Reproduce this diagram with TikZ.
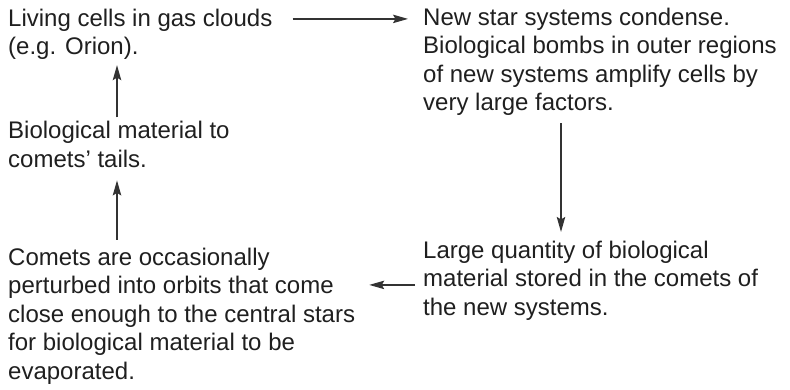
\documentclass[tikz,border=0pt]{standalone}
\usepackage{fontspec}
\setmainfont{Liberation Sans}
\usetikzlibrary{arrows.meta,calc}
\tikzset{
  % multi-line nodes take their base from the last line
  stage/.style={anchor=base west, inner sep=0pt, align=left, text=black!88,
    font=\fontsize{24}{28.5}\selectfont},
  flow/.style={line width=1.2pt, draw=black!80,
    -{Stealth[length=15pt,width=8.5pt,inset=2.5pt]}}
}
\begin{document}
\begin{tikzpicture}[x=1pt,y=1pt]
\useasboundingbox (0,0) rectangle (790,-389);
% the five stages of the cycle
\node[stage] (gas)    at (8,-54.5)   {Living cells in gas clouds\\(e.g. Orion).};
\node[stage] (stars)  at (423,-110.5) {New star systems condense.\\Biological bombs in outer regions\\of new systems amplify cells by\\very large factors.};
\node[stage] (store)  at (423,-315)  {Large quantity of biological\\material stored in the comets of\\the new systems.};
\node[stage] (orbit)  at (8,-379)    {Comets are occasionally\\perturbed into orbits that come\\close enough to the central stars\\for biological material to be\\evaporated.};
\node[stage] (tails)  at (8,-167)    {Biological material to\\comets' tails.};
% the connectors, going round the cycle
\coordinate (s1) at ($(store.north west)+(-8,-44.5)$);
\coordinate (s2) at (orbit.east |- s1);
\draw[flow] ($(gas.north east)+(20,-10.5)$) -- ($(stars.north west)+(-15,-11.5)$);
\draw[flow] ($(stars.south west)+(138,-7.5)$) -- ($(store.north west)+(138,8.5)$);
\draw[flow] (s1) -- ([xshift=14pt]s2);
\draw[flow] ($(orbit.north west)+(109,7.5)$) -- ($(tails.south west)+(109,-13)$);
\draw[flow] ($(tails.north west)+(109,3.5)$) -- ($(gas.south west)+(109,-5.5)$);
\end{tikzpicture}
\end{document}
